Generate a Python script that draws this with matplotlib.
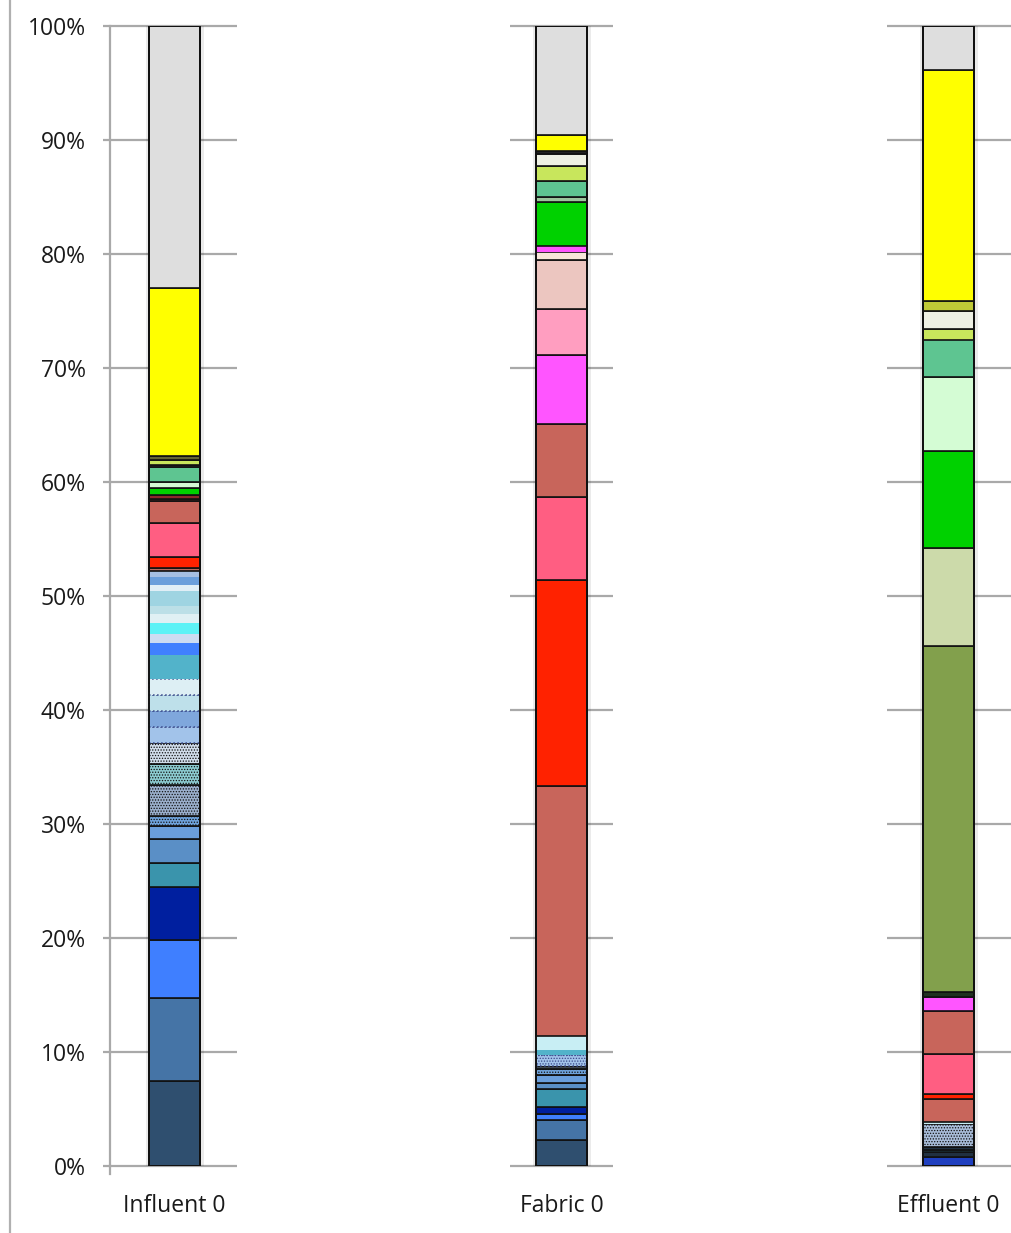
import matplotlib
matplotlib.use("Agg")
import matplotlib.pyplot as plt
from matplotlib.lines import Line2D

plt.rcParams['font.family'] = ['Open Sans', 'DejaVu Sans']
plt.rcParams['hatch.linewidth'] = 0.6

categories = ["Influent 0", "Fabric 0", "Effluent 0"]
yticks = [0, 10, 20, 30, 40, 50, 60, 70, 80, 90, 100]
ytick_labels = ["0%", "10%", "20%", "30%", "40%", "50%", "60%", "70%", "80%", "90%", "100%"]

# segment heights (% of total), bottom to top
influent_values = [7.5, 7.2, 5.1, 4.7, 2.1, 2.1, 1.1, 0.9, 2.7, 1.9, 1.8, 1.4, 1.4, 1.4, 1.4,
                   2.1, 1.1, 0.8, 0.9, 0.8, 0.7, 1.3, 0.6, 0.7, 0.5, 0.3, 0.9, 3.0, 1.9, 0.2,
                   0.4, 0.6, 0.5, 1.3, 0.15, 0.45, 0.4, 14.7, 23.0]
fabric_values = [2.3, 1.7, 0.6, 0.6, 1.55, 0.5, 0.75, 0.5, 0.3, 0.9, 0.5, 1.2, 21.9, 18.1, 7.3,
                 6.4, 6.0, 4.1, 4.3, 0.7, 0.5, 3.9, 0.4, 1.4, 1.3, 1.1, 0.2, 1.4, 9.6]
effluent_values = [0.8, 0.4, 0.2, 0.3, 2.0, 0.2, 1.95, 0.45, 3.5, 3.8, 1.25, 0.45, 30.3, 8.6,
                   8.5, 6.5, 3.3, 0.9, 1.6, 0.9, 20.2, 3.9]

# styles
influent_colors = ["#2F4F6F", "#4574A6", "#3F7FFF", "#001F9F", "#3A94AC", "#5A8FC6", "#6A9EDB",
                   "#6FA3DC", "#9AAECB", "#8CCBD0", "#D0DCEA", "#A2C3EA", "#7FA7DC", "#BEE0EA",
                   "#DDEFF4", "#52B3CA", "#4080FF", "#CCDCF2", "#5CF2F6", "#E0F0F4", "#BCDFE7",
                   "#9FD4E2", "#E0EEF6", "#6A9EDB", "#A6BFE2", "#B86A5E", "#FF2200", "#FF5E82",
                   "#C8655B", "#7A3A30", "#8A2A2A", "#00D100", "#D4F8D4", "#5EC591", "#444444",
                   "#C8E65C", "#666633", "#FFFF00", "#DEDEDE"]
influent_edges = list("kkkkkkkkkkkddddnnnnnnnnnnkkkkkkkkkkkkkk")
influent_hatch = [0]*7 + [1, 1, 1, 1] + [0]*28

fabric_colors = ["#2F4F6F", "#4574A6", "#3F7FFF", "#001F9F", "#3A94AC", "#5A8FC6", "#6A9EDB",
                 "#6FA3DC", "#404850", "#A2C3EA", "#52B3CA", "#C8EEF4", "#C8655B", "#FF2200",
                 "#FF5E82", "#C8655B", "#FF55FF", "#FF9EC0", "#ECC6C0", "#F8E6DA", "#FF55FF",
                 "#00D100", "#9CC69C", "#5EC591", "#C8E65C", "#EEF0E4", "#222222", "#FFFF00",
                 "#DEDEDE"]
fabric_edges = list("kkkkkkkkkdnnkkkkkkkknkkkkkkkk")
fabric_hatch = [0]*7 + [1, 0, 1] + [0]*19

effluent_colors = ["#1F3FBF", "#203040", "#3A94AC", "#203040", "#A8BCD8", "#C8EEF4", "#C8655B",
                   "#FF2200", "#FF5E82", "#C8655B", "#FF55FF", "#203020", "#82A04C", "#CCDAAA",
                   "#00D100", "#D4FCD4", "#5EC591", "#C8E65C", "#EEF0E4", "#BFC936", "#FFFF00",
                   "#DEDEDE"]
effluent_edges = list("kkkkknkkkkkkkkkkkkkkkk")
effluent_hatch = [0]*4 + [1] + [0]*17

all_values = [influent_values, fabric_values, effluent_values]
all_colors = [influent_colors, fabric_colors, effluent_colors]
all_edges = [influent_edges, fabric_edges, effluent_edges]
all_hatch = [influent_hatch, fabric_hatch, effluent_hatch]

W, H = 1012, 1233
fig = plt.figure(figsize=(W/100, H/100), dpi=100)
ax = fig.add_axes([110/W, (H-1166)/H, (W-110)/W, (1166-26)/H])

bar_w = 0.132
xpos = [0, 1, 2]
ax.set_xlim(-0.1667, 2.164)
ax.set_ylim(0, 100)

# gridline segments around each bar
grid_ranges = [(-0.1667, 0.1615), (0.867, 1.133), (1.841, 2.164)]
for (a, b) in grid_ranges:
    ax.hlines(yticks, a, b, colors="#A9A9A9", linewidth=1.6, zorder=0, clip_on=False)

for xi, vals, cols, edges, hats in zip(xpos, all_values, all_colors, all_edges, all_hatch):
    total = sum(vals)
    # soft shadow around the bar
    ax.bar(xi, total, bottom=0, width=bar_w, fill=False, edgecolor="#000000",
           linewidth=5, alpha=0.08, zorder=2)
    bottom = 0.0
    for v, c, e, h in zip(vals, cols, edges, hats):
        if e == 'k':
            ec, ls, lw = "#111111", "-", 1.2
        elif e == 'd':
            ec, ls, lw = "#3A4A8A", ":", 1.1
        else:
            ec, ls, lw = c, "-", 0.0
        ax.bar(xi, v, bottom=bottom, width=bar_w, color=c, edgecolor=ec, linewidth=lw,
               linestyle=ls, hatch='......' if h else None, zorder=3)
        bottom += v
    # outer outline
    ax.bar(xi, bottom, bottom=0, width=bar_w, fill=False, edgecolor="#111111",
           linewidth=1.4, zorder=4)

for s in ["top", "right", "bottom"]:
    ax.spines[s].set_visible(False)
ax.spines["left"].set_color("#A9A9A9")
ax.spines["left"].set_linewidth(1.6)
ax.spines["left"].set_bounds(0, 100)

ax.set_yticks(yticks)
ax.set_yticklabels(ytick_labels)
ax.tick_params(axis='y', length=5, width=1.6, color="#A9A9A9", pad=12.5,
               labelsize=16.5, labelcolor="#1a1a1a")
ax.set_xticks(xpos)
ax.set_xticklabels(categories)
ax.tick_params(axis='x', length=0, pad=20, labelsize=16.5, labelcolor="#1a1a1a")

# small spine extension below zero and left frame line
fig.add_artist(Line2D([110/W, 110/W], [(H-1174)/H, (H-1166)/H], color="#A9A9A9", lw=1.6))
fig.add_artist(Line2D([10/W, 10/W], [0, 1], color="#B0B0B0", lw=1.6))

fig.savefig("out.png", dpi=100)
